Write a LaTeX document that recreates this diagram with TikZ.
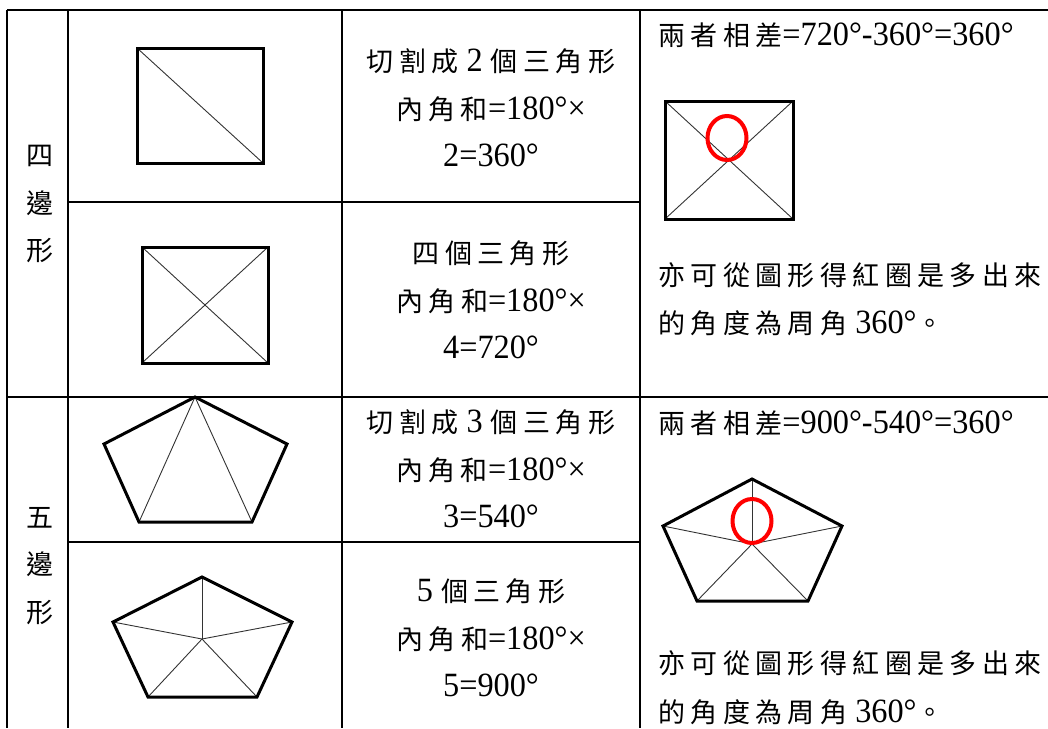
\documentclass[tikz,border=0pt]{standalone}
\usepackage{fontspec}
\setmainfont{Liberation Serif}[FakeStretch=0.95]
\newfontfamily\hanfont{Noto Sans CJK TC}[LetterSpace=20]
\newcommand{\hz}[1]{{\fontsize{27}{47.5}\hanfont #1}}
\usepackage{tikz}

\tikzset{
    rule/.style={line width=1.8pt},
    outline/.style={draw=black, line width=3pt, line join=miter},
    cut/.style={draw=black!80, line width=0.9pt},
    redring/.style={draw=red, line width=4pt},
    txt/.style={inner sep=0pt, font=\fontsize{34}{47.5}\selectfont}
}

\begin{document}
\begin{tikzpicture}[x=1pt,y=-1pt]
    \useasboundingbox (0,0) rectangle (1048,728);

        % table rules
        \begin{scope}[rule]
        \draw (7,10) -- (1048,10);
        \draw (7,397) -- (1048,397);
        \draw (68,202) -- (640,202);
        \draw (68,542) -- (640,542);
        \draw (7,10) -- (7,728);
        \draw (68,10) -- (68,728);
        \draw (342,10) -- (342,728);
        \draw (640,10) -- (640,728);
        \end{scope}

        % corners of the shapes, use the tuple for location
        \coordinate (S1a) at (137,48);  \coordinate (S1b) at (263,48);
        \coordinate (S1c) at (263,163); \coordinate (S1d) at (137,163);
        \coordinate (S2a) at (142,247); \coordinate (S2b) at (268,247);
        \coordinate (S2c) at (268,363); \coordinate (S2d) at (142,363);
        \coordinate (S3a) at (665,101); \coordinate (S3b) at (793,101);
        \coordinate (S3c) at (793,219); \coordinate (S3d) at (665,219);

        \coordinate (P1a) at (195,397); \coordinate (P1b) at (287,444);
        \coordinate (P1c) at (252,522); \coordinate (P1d) at (139,522);
        \coordinate (P1e) at (104,444);
        \coordinate (P2a) at (202,577); \coordinate (P2b) at (292,622);
        \coordinate (P2c) at (257,697); \coordinate (P2d) at (148,697);
        \coordinate (P2e) at (113,622); \coordinate (P2o) at (202,639);
        \coordinate (P3a) at (752,479); \coordinate (P3b) at (842,526);
        \coordinate (P3c) at (808,601); \coordinate (P3d) at (697,601);
        \coordinate (P3e) at (663,526); \coordinate (P3o) at (752,544);

        % cutting lines first, outlines on top
        \draw[cut] (S1a) -- (S1c);
        \draw[cut] (S2a) -- (S2c) (S2b) -- (S2d);
        \draw[cut] (S3a) -- (S3c) (S3b) -- (S3d);
        \draw[cut] (P1a) -- (P1c) (P1a) -- (P1d);
        \foreach \v in {a,b,c,d,e} {
            \draw[cut] (P2o) -- (P2\v);
            \draw[cut] (P3o) -- (P3\v);
        }

        \draw[outline] (S1a) -- (S1b) -- (S1c) -- (S1d) -- cycle;
        \draw[outline] (S2a) -- (S2b) -- (S2c) -- (S2d) -- cycle;
        \draw[outline] (S3a) -- (S3b) -- (S3c) -- (S3d) -- cycle;
        \draw[outline] (P1a) -- (P1b) -- (P1c) -- (P1d) -- (P1e) -- cycle;
        \draw[outline] (P2a) -- (P2b) -- (P2c) -- (P2d) -- (P2e) -- cycle;
        \draw[outline] (P3a) -- (P3b) -- (P3c) -- (P3d) -- (P3e) -- cycle;

        % the extra angle round the middle point
        \draw[redring] (727,138) ellipse [x radius=19.5pt, y radius=22pt];
        \draw[redring] (752,521) ellipse [x radius=19.5pt, y radius=22pt];

        % texts
        \begin{scope}[every node/.style={txt, align=center}]
        \node (Q) at (40,204) {\hz{四}\\\hz{邊}\\\hz{形}};
        \node (F) at (40,566) {\hz{五}\\\hz{邊}\\\hz{形}};
        \node (Q1) at (491,108) {\hz{切割成}\ 2 \hz{個三角形}\\\hz{內角和}=180°×\\2=360°};
        \node (Q2) at (491,300) {\hz{四個三角形}\\\hz{內角和}=180°×\\4=720°};
        \node (F1) at (491,469) {\hz{切割成}\ 3 \hz{個三角形}\\\hz{內角和}=180°×\\3=540°};
        \node (F2) at (491,638) {5 \hz{個三角形}\\\hz{內角和}=180°×\\5=900°};
        \end{scope}

        \begin{scope}[every node/.style={txt, anchor=base west}]
        \node (QD) at (658,45) {\hz{兩者相差}=720°-360°=360°};
        \node (QN) at (658,285) {\hz{亦可從圖形得紅圈是多出來}};
        \node (QA) at (658,333) {\hz{的角度為周角}\ 360°\hz{。}};
        \node (FD) at (658,433) {\hz{兩者相差}=900°-540°=360°};
        \node (FN) at (658,673) {\hz{亦可從圖形得紅圈是多出來}};
        \node (FA) at (658,722) {\hz{的角度為周角}\ 360°\hz{。}};
        \end{scope}

\end{tikzpicture}
\end{document}
